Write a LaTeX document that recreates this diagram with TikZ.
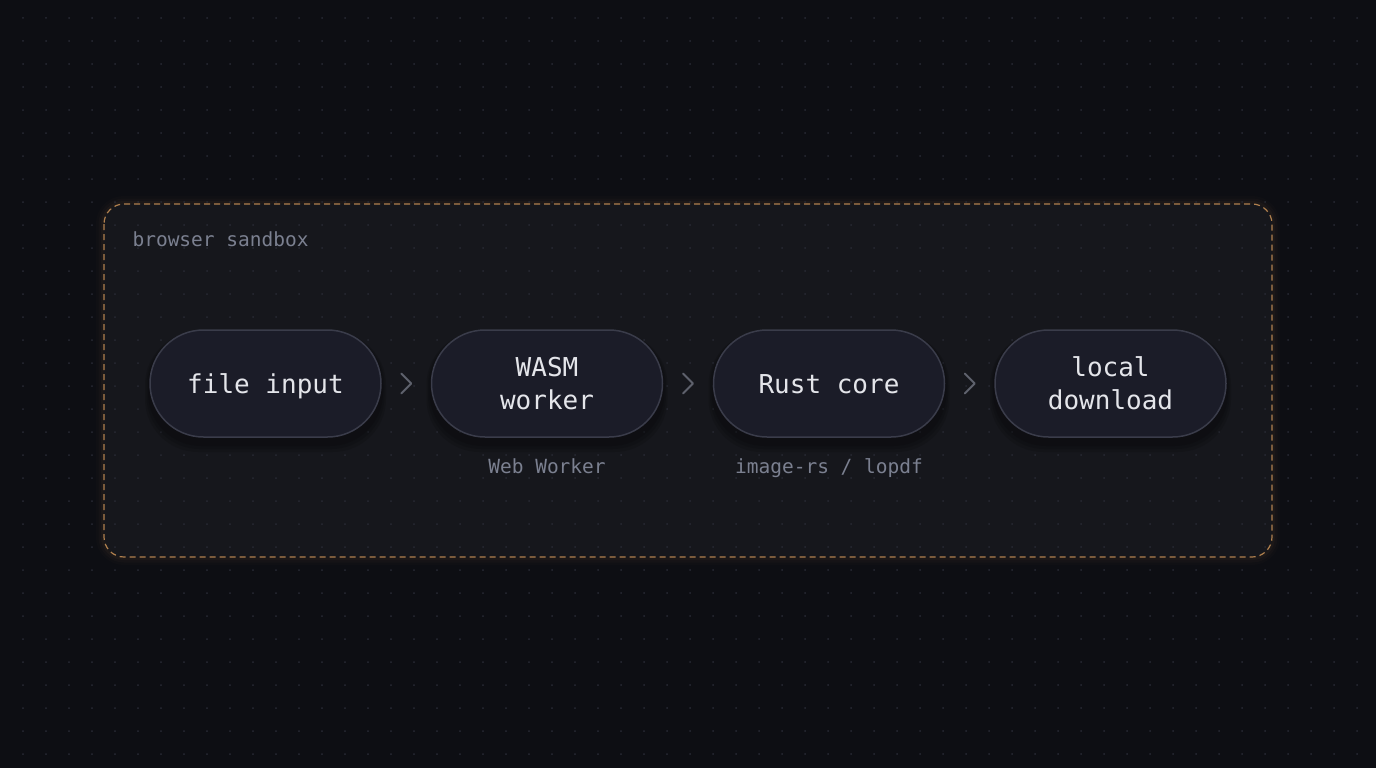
\documentclass[tikz,border=0pt]{standalone}
\usepackage{fontspec}
\setmonofont{DejaVu Sans Mono}
\usetikzlibrary{shapes.misc}
\definecolor{bgc}{HTML}{0D0E13}
\definecolor{dotc}{HTML}{282A34}
\definecolor{boxfill}{HTML}{16171C}
\definecolor{dashc}{HTML}{B0804E}
\definecolor{pillfill}{HTML}{1B1C28}
\definecolor{pilldraw}{HTML}{3A3C4A}
\definecolor{pilltext}{HTML}{E4E5EA}
\definecolor{subtext}{HTML}{7B8090}
\definecolor{chevc}{HTML}{5E616C}
\tikzset{
  pill/.style={rounded rectangle, fill=pillfill, draw=pilldraw, line width=1.5pt,
    minimum width=231pt, minimum height=107pt, inner sep=0pt,
    font=\ttfamily\fontsize{26}{33}\selectfont, text=pilltext, align=center},
  onepill/.style={pill, text height=20pt, text depth=0pt},
  sublabel/.style={anchor=base, font=\ttfamily\fontsize{19.5}{24}\selectfont, text=subtext},
  chev/.style={draw=chevc, line width=2pt, line cap=round, line join=round},
}
\begin{document}
\begin{tikzpicture}[x=1pt,y=-1pt]
\useasboundingbox (0,0) rectangle (1376,768);
\fill[bgc] (0,0) rectangle (1376,768);
% glow of sandbox
\foreach \w/\o in {16/0.025,11/0.035,6/0.05}{
  \draw[line width=\w pt, draw=dashc, opacity=\o, rounded corners=20pt] (104,204) rectangle (1272,557);
}
\fill[boxfill, rounded corners=20pt] (104,204) rectangle (1272,557);
% dot grid
\foreach \i in {0,...,59}{
  \foreach \j in {0,...,32}{
    \fill[dotc] (23+23*\i,18+23*\j) circle (1pt);
  }
}
\draw[dashc, line width=1.2pt, dash pattern=on 6pt off 4pt, rounded corners=20pt] (104,204) rectangle (1272,557);
\node[anchor=west, font=\ttfamily\fontsize{19.5}{24}\selectfont, text=subtext] (lbl) at (129,239) {browser sandbox};
% soft shadows
\foreach \x in {265.5,547,829,1110.5}{
  \foreach \g in {10,7,4}{
    \fill[black, opacity=0.12, rounded corners=53pt] (\x-115.5-\g/2,332) rectangle (\x+115.5+\g/2,442+\g);
  }
}
\node[onepill] (a) at (265.5,383.5) {file input};
\node[pill] (b) at (547,383.5) {WASM\\worker};
\node[onepill] (c) at (829,383.5) {Rust core};
\node[pill] (d) at (1110.5,383.5) {local\\download};
\path (a.east) -- (b.west) coordinate[midway] (ab);
\path (b.east) -- (c.west) coordinate[midway] (bc);
\path (c.east) -- (d.west) coordinate[midway] (cd);
\foreach \p in {ab,bc,cd}{
  \draw[chev] ([shift={(-5,-10)}]\p) -- ([shift={(5,0)}]\p) -- ([shift={(-5,10)}]\p);
}
\node[sublabel] (bs) at (547,473) {Web Worker};
\node[sublabel] (cs) at (829,473) {image-rs / lopdf};
\end{tikzpicture}
\end{document}
